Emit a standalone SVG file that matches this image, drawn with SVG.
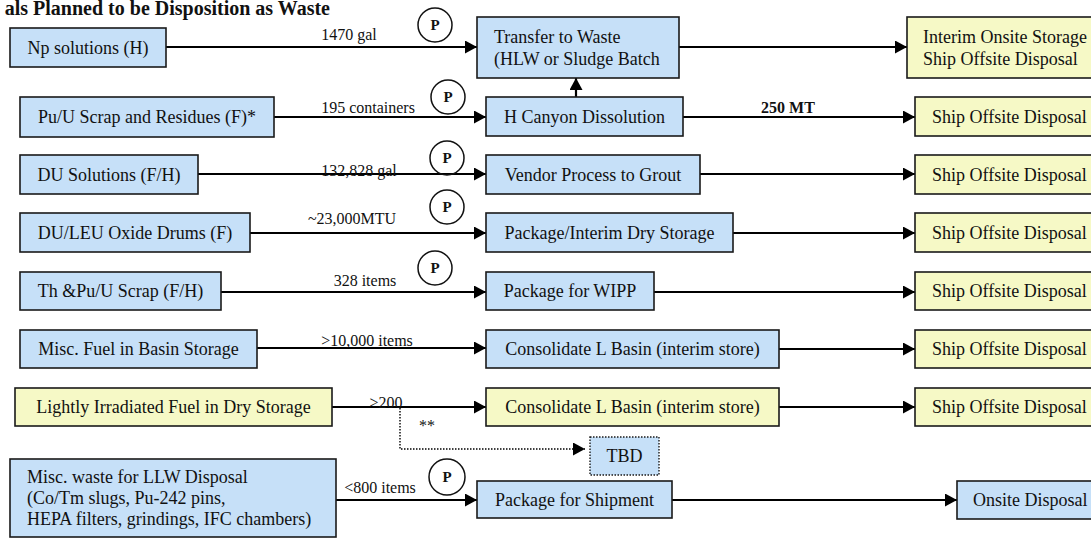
<svg xmlns="http://www.w3.org/2000/svg" width="1091" height="540" viewBox="0 0 1091 540">
<defs>
<marker id="ah" markerUnits="userSpaceOnUse" markerWidth="13" markerHeight="13" refX="12" refY="6.5" orient="auto">
<path d="M0,0 L12,6.5 L0,13 z" fill="#000"/>
</marker>
<style>
.blue{fill:#C6E0F8;stroke:#1a1a1a;stroke-width:1.6}
.yel{fill:#F6F9C6;stroke:#1a1a1a;stroke-width:1.6}
.tbd{fill:#C6E0F8;stroke:#1a1a1a;stroke-width:1.4;stroke-dasharray:1.5 1.5}
.t{font-family:"Liberation Serif","Times New Roman",serif;font-size:18px;fill:#111}
.c{text-anchor:middle}
.lab{font-family:"Liberation Serif","Times New Roman",serif;font-size:16px;fill:#111;text-anchor:middle}
.p{font-family:"Liberation Serif","Times New Roman",serif;font-size:15px;font-weight:bold;fill:#111;text-anchor:middle}
.pc{fill:none;stroke:#111;stroke-width:1.5}
.ln{stroke:#000;stroke-width:2.2;fill:none;marker-end:url(#ah)}
.dot{stroke:#000;stroke-width:1.4;fill:none;stroke-dasharray:1.5 1.5;marker-end:url(#ah)}
</style>
</defs>
<rect width="1091" height="540" fill="#fff"/>
<text x="330" y="15" font-family="Liberation Serif,serif" font-size="20" font-weight="bold" text-anchor="end" fill="#111">als Planned to be Disposition as Waste</text>

<g id="connectors">
<line class="ln" x1="166" y1="47" x2="477" y2="47"/>
<line class="ln" x1="274" y1="117" x2="486" y2="117"/>
<line class="ln" x1="198" y1="174" x2="486" y2="174"/>
<line class="ln" x1="250" y1="233" x2="486" y2="233"/>
<line class="ln" x1="221" y1="292" x2="486" y2="292"/>
<line class="ln" x1="257" y1="348" x2="486" y2="348"/>
<line class="ln" x1="332" y1="407" x2="486" y2="407"/>
<line class="ln" x1="336" y1="500" x2="477" y2="500"/>
<line class="ln" x1="679" y1="47" x2="907" y2="47"/>
<line class="ln" x1="683" y1="117" x2="915" y2="117"/>
<line class="ln" x1="700" y1="174" x2="915" y2="174"/>
<line class="ln" x1="733" y1="233" x2="915" y2="233"/>
<line class="ln" x1="654" y1="292" x2="915" y2="292"/>
<line class="ln" x1="779" y1="349" x2="915" y2="349"/>
<line class="ln" x1="779" y1="407" x2="915" y2="407"/>
<line class="ln" x1="672" y1="500" x2="957" y2="500"/>
<line class="ln" x1="576" y1="97" x2="576" y2="78"/>
<polyline class="dot" points="400,408 400,449 585,449"/>
<text class="lab" x="349" y="40">1470 gal</text>
<text class="lab" x="368" y="113">195 containers</text>
<text class="lab" x="359" y="176">132,828 gal</text>
<text class="lab" x="352" y="224">~23,000MTU</text>
<text class="lab" x="365" y="286">328 items</text>
<text class="lab" x="367" y="346">&gt;10,000 items</text>
<text class="lab" x="386" y="408">&gt;200</text>
<text class="lab" x="427" y="431">**</text>
<text class="lab" x="380" y="493">&lt;800 items</text>
<text class="lab" x="788" y="113" font-weight="bold" font-size="15">250 MT</text>
<g id="p-markers">
<circle class="pc" cx="435" cy="25" r="17"/><text class="p" x="435" y="30">P</text>
<circle class="pc" cx="448" cy="97" r="17"/><text class="p" x="448" y="102">P</text>
<circle class="pc" cx="447" cy="158" r="17"/><text class="p" x="447" y="163">P</text>
<circle class="pc" cx="447" cy="207" r="17"/><text class="p" x="447" y="212">P</text>
<circle class="pc" cx="435" cy="268" r="17"/><text class="p" x="435" y="273">P</text>
<circle class="pc" cx="447" cy="477" r="18"/><text class="p" x="447" y="482">P</text>
</g>
</g>

<g id="np"><rect class="blue" x="10" y="28" width="156" height="39"/><text class="t c" x="88" y="54">Np solutions (H)</text></g>
<g id="puu"><rect class="blue" x="20" y="97" width="254" height="40"/><text class="t c" x="147" y="123">Pu/U Scrap and Residues (F)*</text></g>
<g id="dusol"><rect class="blue" x="20" y="155" width="178" height="39"/><text class="t c" x="109" y="181">DU Solutions (F/H)</text></g>
<g id="duleu"><rect class="blue" x="20" y="213" width="230" height="39"/><text class="t c" x="135" y="239">DU/LEU Oxide Drums (F)</text></g>
<g id="th"><rect class="blue" x="20" y="272" width="201" height="38"/><text class="t c" x="120.5" y="297">Th &amp;Pu/U Scrap (F/H)</text></g>
<g id="miscfuel"><rect class="blue" x="20" y="330" width="237" height="38"/><text class="t c" x="138.5" y="355">Misc. Fuel in Basin Storage</text></g>
<g id="lightly"><rect class="yel" x="15" y="388" width="317" height="38"/><text class="t c" x="173.5" y="413">Lightly Irradiated Fuel in Dry Storage</text></g>
<g id="miscwaste"><rect class="blue" x="10" y="459" width="326" height="78"/>
<text class="t" x="27" y="483">Misc. waste for LLW Disposal</text>
<text class="t" x="27" y="504">(Co/Tm slugs, Pu-242 pins,</text>
<text class="t" x="27" y="525">HEPA filters, grindings, IFC chambers)</text></g>

<g id="transfer"><rect class="blue" x="477" y="17" width="202" height="61"/><text class="t" x="494" y="43">Transfer to Waste</text><text class="t" x="494" y="65">(HLW or Sludge Batch</text></g>
<g id="hcanyon"><rect class="blue" x="486" y="97" width="197" height="39"/><text class="t c" x="584.5" y="123">H Canyon Dissolution</text></g>
<g id="vendor"><rect class="blue" x="486" y="155" width="214" height="39"/><text class="t c" x="593" y="181">Vendor Process to Grout</text></g>
<g id="pkgdry"><rect class="blue" x="486" y="213" width="247" height="39"/><text class="t c" x="609.5" y="239">Package/Interim Dry Storage</text></g>
<g id="wipp"><rect class="blue" x="486" y="272" width="168" height="38"/><text class="t c" x="570" y="297">Package for WIPP</text></g>
<g id="consol1"><rect class="blue" x="486" y="330" width="293" height="38"/><text class="t c" x="632.5" y="355">Consolidate L Basin (interim store)</text></g>
<g id="consol2"><rect class="yel" x="486" y="388" width="293" height="38"/><text class="t c" x="632.5" y="413">Consolidate L Basin (interim store)</text></g>
<g id="tbd"><rect class="tbd" x="590" y="437" width="69" height="38"/><text class="t c" x="624.5" y="462">TBD</text></g>
<g id="pkgship"><rect class="blue" x="477" y="481" width="195" height="37"/><text class="t c" x="574.5" y="506">Package for Shipment</text></g>

<g id="interim"><rect class="yel" x="907" y="17" width="200" height="61"/><text class="t" x="923" y="43">Interim Onsite Storage</text><text class="t" x="923" y="65">Ship Offsite Disposal</text></g>
<g id="ship2"><rect class="yel" x="915" y="97" width="200" height="39"/><text class="t" x="932" y="123">Ship Offsite Disposal</text></g>
<g id="ship3"><rect class="yel" x="915" y="155" width="200" height="39"/><text class="t" x="932" y="181">Ship Offsite Disposal</text></g>
<g id="ship4"><rect class="yel" x="915" y="213" width="200" height="39"/><text class="t" x="932" y="239">Ship Offsite Disposal</text></g>
<g id="ship5"><rect class="yel" x="915" y="272" width="200" height="38"/><text class="t" x="932" y="297">Ship Offsite Disposal</text></g>
<g id="ship6"><rect class="yel" x="915" y="330" width="200" height="38"/><text class="t" x="932" y="355">Ship Offsite Disposal</text></g>
<g id="ship7"><rect class="yel" x="915" y="388" width="200" height="38"/><text class="t" x="932" y="413">Ship Offsite Disposal</text></g>
<g id="onsite"><rect class="blue" x="957" y="481" width="150" height="38"/><text class="t" x="973" y="506">Onsite Disposal</text></g>
</svg>
